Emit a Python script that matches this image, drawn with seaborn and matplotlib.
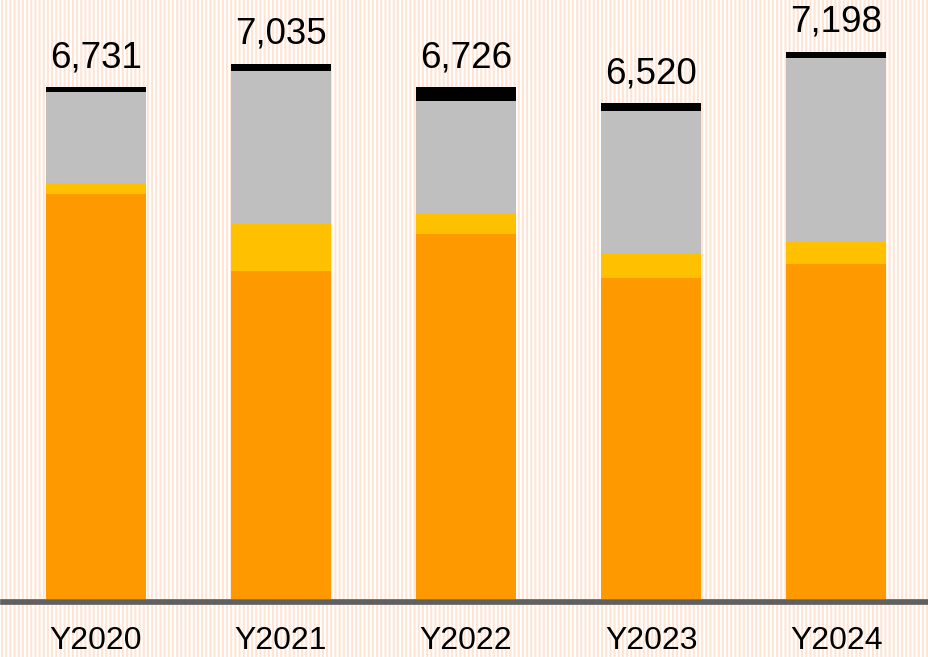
import numpy as np
import pandas as pd
import matplotlib
matplotlib.use("Agg")
import matplotlib.pyplot as plt
from matplotlib.patches import Rectangle
import seaborn as sns

years = ["Y2020", "Y2021", "Y2022", "Y2023", "Y2024"]
orange_vals = [5332, 4318, 4799, 4224, 4407]
yellow_vals = [135, 618, 263, 329, 294]
gray_vals = [1196, 2007, 1489, 1870, 2413]
black_vals = [68, 92, 175, 97, 84]
totals = [6731, 7035, 6726, 6520, 7198]

seg_names = ["orange", "yellow", "gray", "black"]
seg_colors = ["#FF9900", "#FFC000", "#BFBFBF", "#000000"]

sns.set_theme(style="white")
plt.rcParams["font.family"] = ["Liberation Sans", "DejaVu Sans"]
plt.rcParams["hatch.linewidth"] = 1.5

fig = plt.figure(figsize=(9.29, 6.57), dpi=100)
fig.patch.set_facecolor("white")
bg = Rectangle((0, 0), 1, 1, transform=fig.transFigure, facecolor="white",
               edgecolor="#FFE4D4", hatch="||||", linewidth=0, zorder=-10)
fig.add_artist(bg)

ax = fig.add_axes([3 / 929, 55 / 657, 926 / 929, 602 / 657])
ax.set_facecolor("none")

df = pd.DataFrame({"year": years, "orange": orange_vals, "yellow": yellow_vals,
                   "gray": gray_vals, "black": black_vals})
cum = df[seg_names].cumsum(axis=1)

# draw cumulative totals, tallest first, so lower segments overlay upper
for name, col in zip(reversed(seg_names), reversed(seg_colors)):
    sns.barplot(x=df["year"], y=cum[name], color=col, width=0.54,
                saturation=1, linewidth=0, ax=ax)

for i, t in enumerate(totals):
    ax.annotate(f"{t:,}", (i, t), xytext=(0, 14.4), textcoords="offset points",
                ha="center", va="baseline", fontsize=26.5, color="black")

ax.set_xlim(-0.5, 4.5)
ax.set_ylim(-35, 7875)
ax.set_xlabel("")
ax.set_ylabel("")
ax.set_yticks([])
for s in ["left", "right", "top"]:
    ax.spines[s].set_visible(False)
ax.spines["bottom"].set_color("#606060")
ax.spines["bottom"].set_linewidth(4.1)
ax.tick_params(axis="x", length=0, pad=17.5, labelsize=23, labelcolor="black")

fig.savefig("out.png", dpi=100)
